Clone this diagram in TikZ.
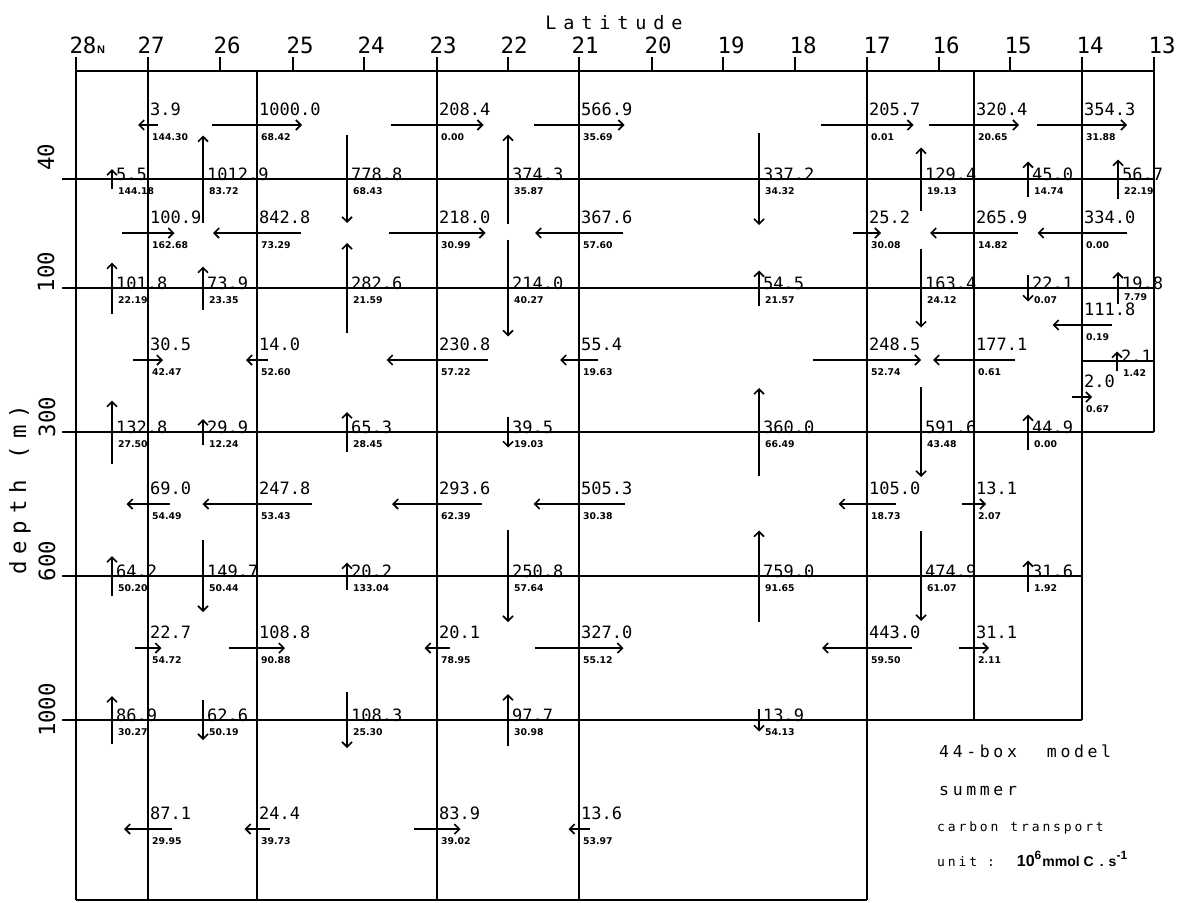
\documentclass[tikz,border=0pt]{standalone}
\usepackage{fontspec}
\setmainfont{DejaVu Sans}
\newfontfamily\plotmono{DejaVu Sans Mono}
\newfontfamily\legmono[LetterSpace=22]{DejaVu Sans Mono}
\newfontfamily\titlemono[LetterSpace=37]{DejaVu Sans Mono}
\newfontfamily\depthmono[LetterSpace=31]{DejaVu Sans Mono}
\newfontfamily\smallbold{DejaVu Sans}
\newfontfamily\unitbold{Liberation Sans}
\usetikzlibrary{arrows.meta}

\tikzset{
  frame/.style={line width=2pt},
  flux/.style={line width=1.6pt, -{Straight Barb[length=5pt,width=10pt]}},
  big/.style={inner sep=0pt, anchor=base west, font=\plotmono\fontsize{17}{18}\selectfont},
  small/.style={inner sep=0pt, anchor=base west, font=\smallbold\bfseries\fontsize{9.3}{10}\selectfont},
  axislab/.style={inner sep=0pt, anchor=base, font=\plotmono\fontsize{22.4}{24}\selectfont},
  depthlab/.style={inner sep=0pt, anchor=center, rotate=90, font=\plotmono\fontsize{22.4}{24}\selectfont},
  legbig/.style={inner sep=0pt, anchor=base west, font=\legmono\fontsize{16.5}{18}\selectfont},
  legsmall/.style={inner sep=0pt, anchor=base west, font=\legmono\fontsize{13}{14}\selectfont},
}

% horizontal flux: id, x of boundary, y, signed length (+ = to the right), value, small value
\newcommand{\HFlux}[6]{%
  \coordinate (#1a) at ({#2-(#4)/2},#3);
  \coordinate (#1b) at ({#2+(#4)/2},#3);
  \draw[flux] (#1a) -- (#1b);
  \node[big] (#1t) at ({#2+2},{#3-10}) {#5};
  \node[small] (#1u) at ({#2+4},{#3+15}) {#6};
}
% vertical flux: id, x, y of boundary, signed length (+ = downward), value, small value
\newcommand{\VFlux}[6]{%
  \coordinate (#1a) at (#2,{#3-(#4)/2});
  \coordinate (#1b) at (#2,{#3+(#4)/2});
  \draw[flux] (#1a) -- (#1b);
  \node[big] (#1t) at ({#2+4},{#3+1}) {#5};
  \node[small] (#1u) at ({#2+6},{#3+15}) {#6};
}

\begin{document}
\begin{tikzpicture}[x=1pt,y=-1pt]
\fill[white] (0,0) rectangle (1180,902);
\useasboundingbox (0,0) rectangle (1180,902);

% ---- frame of the boxes ----
\draw[frame] (76,57) -- (76,900);
\draw[frame] (148,57) -- (148,900);
\draw[frame] (257,71) -- (257,900);
\draw[frame] (437,57) -- (437,900);
\draw[frame] (579,57) -- (579,900);
\draw[frame] (867,57) -- (867,900);
\draw[frame] (974,71) -- (974,720);
\draw[frame] (1082,57) -- (1082,720);
\draw[frame] (1154,57) -- (1154,432);
\draw[frame] (76,71) -- (1154,71);
\draw[frame] (62,179) -- (1154,179);
\draw[frame] (62,288) -- (1154,288);
\draw[frame] (1082,361) -- (1154,361);
\draw[frame] (62,432) -- (1154,432);
\draw[frame] (62,576) -- (1082,576);
\draw[frame] (62,720) -- (1082,720);
\draw[frame] (76,900) -- (867,900);
\foreach \x in {220,293,364,508,652,723,795,939,1010}
  \draw[frame] (\x,57) -- (\x,71);

% ---- axes labels ----
\node[inner sep=0pt, anchor=base, font=\titlemono\fontsize{18.5}{20}\selectfont] (title) at (614,29) {Latitude};
\node[axislab] (lat28) at (83,53) {28};
\node[inner sep=0pt, anchor=base west, font=\unitbold\bfseries\fontsize{11}{12}\selectfont] (latN) at (97,53) {N};
\foreach \l/\x in {27/151,26/227,25/300,24/371,23/443,22/514,21/585,20/658,19/731,18/803,17/877,16/946,15/1018,14/1090,13/1162}
  \node[axislab] (lat\l) at (\x,53) {\l};

\node[inner sep=0pt, anchor=center, rotate=90, font=\depthmono\fontsize{22.4}{24}\selectfont] (depth) at (20,490) {depth (m)};
\node[depthlab] (d40) at (46,157) {40};
\node[depthlab] (d100) at (46,272) {100};
\node[depthlab] (d300) at (47,417) {300};
\node[depthlab] (d600) at (47,561) {600};
\node[depthlab] (d1000) at (47,710) {1000};

% ---- horizontal fluxes ----
\HFlux{h11}{148}{125}{-20}{3.9}{144.30}
\HFlux{h12}{257}{125}{90}{1000.0}{68.42}
\HFlux{h13}{437}{125}{93}{208.4}{0.00}
\HFlux{h14}{579}{125}{91}{566.9}{35.69}
\HFlux{h15}{867}{125}{93}{205.7}{0.01}
\HFlux{h16}{974}{125}{90}{320.4}{20.65}
\HFlux{h17}{1082}{125}{90}{354.3}{31.88}

\HFlux{h21}{148}{233}{53}{100.9}{162.68}
\HFlux{h22}{257}{233}{-88}{842.8}{73.29}
\HFlux{h23}{437}{233}{97}{218.0}{30.99}
\HFlux{h24}{579}{233}{-88}{367.6}{57.60}
\HFlux{h25}{867}{233}{28}{25.2}{30.08}
\HFlux{h26}{974}{233}{-88}{265.9}{14.82}
\HFlux{h27}{1082}{233}{-89}{334.0}{0.00}

\HFlux{h31}{148}{360}{30}{30.5}{42.47}
\HFlux{h32}{257}{360}{-22}{14.0}{52.60}
\HFlux{h33}{437}{360}{-101}{230.8}{57.22}
\HFlux{h34}{579}{360}{-38}{55.4}{19.63}
\HFlux{h35}{867}{360}{108}{248.5}{52.74}
\HFlux{h36}{974}{360}{-82}{177.1}{0.61}
\HFlux{h37}{1082}{325}{-59}{111.8}{0.19}
\HFlux{h38}{1082}{397}{20}{2.0}{0.67}

\HFlux{h41}{148}{504}{-43}{69.0}{54.49}
\HFlux{h42}{257}{504}{-109}{247.8}{53.43}
\HFlux{h43}{437}{504}{-90}{293.6}{62.39}
\HFlux{h44}{579}{504}{-91}{505.3}{30.38}
\HFlux{h45}{867}{504}{-57}{105.0}{18.73}
\HFlux{h46}{974}{504}{24}{13.1}{2.07}

\HFlux{h51}{148}{648}{27}{22.7}{54.72}
\HFlux{h52}{257}{648}{56}{108.8}{90.88}
\HFlux{h53}{437}{648}{-25}{20.1}{78.95}
\HFlux{h54}{579}{648}{89}{327.0}{55.12}
\HFlux{h55}{867}{648}{-90}{443.0}{59.50}
\HFlux{h56}{974}{648}{30}{31.1}{2.11}

\HFlux{h61}{148}{829}{-48}{87.1}{29.95}
\HFlux{h62}{257}{829}{-25}{24.4}{39.73}
\HFlux{h63}{437}{829}{47}{83.9}{39.02}
\HFlux{h64}{579}{829}{-21}{13.6}{53.97}

% ---- vertical fluxes ----
\VFlux{v11}{112}{179}{-20}{5.5}{144.18}
\VFlux{v12}{203}{179}{-87}{1012.9}{83.72}
\VFlux{v13}{347}{179}{88}{778.8}{68.43}
\VFlux{v14}{508}{179}{-89}{374.3}{35.87}
\VFlux{v15}{759}{179}{92}{337.2}{34.32}
\VFlux{v16}{921}{179}{-63}{129.4}{19.13}
\VFlux{v17}{1028}{179}{-35}{45.0}{14.74}
\VFlux{v18}{1118}{179}{-39}{56.7}{22.19}

\VFlux{v21}{112}{288}{-51}{101.8}{22.19}
\VFlux{v22}{203}{288}{-43}{73.9}{23.35}
\VFlux{v23}{347}{288}{-90}{282.6}{21.59}
\VFlux{v24}{508}{288}{97}{214.0}{40.27}
\VFlux{v25}{759}{288}{-35}{54.5}{21.57}
\VFlux{v26}{921}{288}{79}{163.4}{24.12}
\VFlux{v27}{1028}{288}{27}{22.1}{0.07}
% 19.8 : its small value sits just above 111.8
\coordinate (v28a) at (1118,304);
\coordinate (v28b) at (1118,272);
\draw[flux] (v28a) -- (v28b);
\node[big] (v28t) at (1122,289) {19.8};
\node[small] (v28u) at (1124,300) {7.79};
\VFlux{v29}{1117}{361}{-19}{2.1}{1.42}

\VFlux{v31}{112}{432}{-63}{132.8}{27.50}
\VFlux{v32}{203}{432}{-26}{29.9}{12.24}
\VFlux{v33}{347}{432}{-40}{65.3}{28.45}
\VFlux{v34}{508}{432}{31}{39.5}{19.03}
\VFlux{v35}{759}{432}{-88}{360.0}{66.49}
\VFlux{v36}{921}{432}{90}{591.6}{43.48}
\VFlux{v37}{1028}{432}{-35}{44.9}{0.00}

\VFlux{v41}{112}{576}{-40}{64.2}{50.20}
\VFlux{v42}{203}{576}{72}{149.7}{50.44}
\VFlux{v43}{347}{576}{-27}{20.2}{133.04}
\VFlux{v44}{508}{576}{92}{250.8}{57.64}
\VFlux{v45}{759}{576}{-91}{759.0}{91.65}
\VFlux{v46}{921}{576}{90}{474.9}{61.07}
\VFlux{v47}{1028}{576}{-31}{31.6}{1.92}

\VFlux{v51}{112}{720}{-48}{86.9}{30.27}
\VFlux{v52}{203}{720}{40}{62.6}{50.19}
\VFlux{v53}{347}{720}{56}{108.3}{25.30}
\VFlux{v54}{508}{720}{-52}{97.7}{30.98}
\VFlux{v55}{759}{720}{23}{13.9}{54.13}

% ---- legend ----
\node[legbig] (leg1) at (939,757) {44-box\hspace{30pt}model};
\node[legbig] (leg2) at (939,795) {summer};
\node[legsmall] (leg3) at (937,831) {carbon\hspace{12pt}transport};
\node[inner sep=0pt, anchor=base west] (leg4) at (937,866)
  {{\legmono\fontsize{13}{14}\selectfont unit\hspace{10pt}:}\hspace{22pt}%
   {\unitbold\bfseries\fontsize{16}{17}\selectfont 10\raisebox{7pt}{\fontsize{12}{12}\selectfont 6}}\hspace{1pt}%
   {\unitbold\bfseries\fontsize{14}{15}\selectfont mmol\hspace{4pt}C\hspace{6pt}.\hspace{5pt}s\raisebox{7pt}{\fontsize{12}{12}\selectfont -1}}};
\end{tikzpicture}
\end{document}
